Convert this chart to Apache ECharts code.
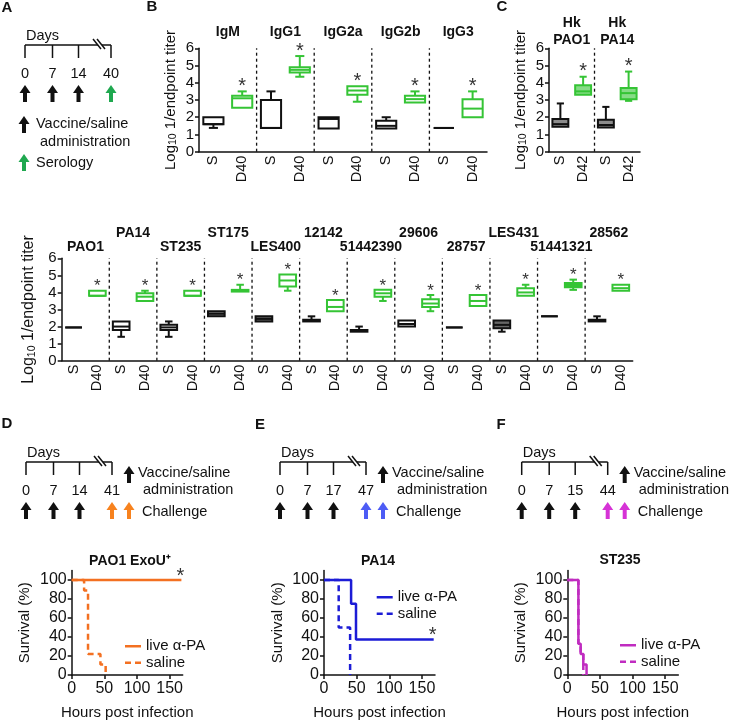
<!DOCTYPE html>
<html>
<head>
<meta charset="utf-8">
<script src="https://cdn.jsdelivr.net/npm/echarts@6/dist/echarts.min.js"></script>
<style>
html, body { margin: 0; padding: 0; background: #fff; }
#main { width: 731px; height: 721px; }
</style>
</head>
<body>
<div id="main"></div>
<script>
// box values are [min, q1, median, q3, max] on log10 titer

// B: isotypes, saline vs day 40
const isotypes = ['IgM', 'IgG1', 'IgG2a', 'IgG2b', 'IgG3'];
const isoSaline = [
  [1.38, 1.6, 1.6, 2.0, 2.0],
  [1.38, 1.38, 1.38, 3.0, 3.5],
  [1.35, 1.35, 1.9, 2.0, 2.0],
  [1.35, 1.35, 1.5, 1.8, 2.0],
  [1.38, 1.38, 1.38, 1.38, 1.38]
];
const isoD40 = [
  [2.55, 2.55, 3.1, 3.25, 3.5],
  [4.35, 4.6, 4.75, 4.9, 5.55],
  [2.9, 3.3, 3.55, 3.8, 3.8],
  [2.85, 2.85, 3.05, 3.25, 3.5],
  [2.0, 2.0, 2.5, 3.05, 3.5]
];

// C: heat killed strains, saline vs day 42
const hkStrains = ['Hk\nPAO1', 'Hk\nPA14'];
const hkSaline = [
  [1.45, 1.45, 1.6, 1.9, 2.8],
  [1.4, 1.4, 1.55, 1.85, 2.6]
];
const hkD42 = [
  [3.3, 3.3, 3.5, 3.85, 4.35],
  [2.95, 3.05, 3.4, 3.7, 4.65]
];

// middle row: clinical strains
const strains = ['PAO1', 'PA14', 'ST235', 'ST175', 'LES400', '12142',
  '51442390', '29606', '28757', 'LES431', '51441321', '28562'];
const strainSaline = [
  [1.95, 1.95, 1.95, 1.95, 1.95],
  [1.4, 1.8, 2.0, 2.3, 2.3],
  [1.4, 1.8, 1.95, 2.1, 2.3],
  [2.6, 2.6, 2.75, 2.9, 2.9],
  [2.3, 2.3, 2.45, 2.6, 2.6],
  [2.3, 2.3, 2.35, 2.4, 2.6],
  [1.7, 1.7, 1.75, 1.8, 2.0],
  [2.0, 2.0, 2.15, 2.35, 2.35],
  [1.95, 1.95, 1.95, 1.95, 1.95],
  [1.7, 1.9, 2.1, 2.35, 2.35],
  [2.6, 2.6, 2.6, 2.6, 2.6],
  [2.3, 2.3, 2.35, 2.4, 2.6]
];
const strainD40 = [
  [3.8, 3.8, 3.8, 4.1, 4.1],
  [3.5, 3.5, 3.75, 3.95, 4.1],
  [3.8, 3.8, 3.8, 4.1, 4.1],
  [4.05, 4.05, 4.1, 4.15, 4.45],
  [4.1, 4.35, 4.7, 5.05, 5.05],
  [2.9, 2.9, 3.15, 3.55, 3.55],
  [3.5, 3.75, 3.95, 4.15, 4.15],
  [2.9, 3.15, 3.35, 3.6, 3.85],
  [3.2, 3.2, 3.5, 3.85, 3.85],
  [3.8, 3.8, 4.0, 4.25, 4.45],
  [4.15, 4.3, 4.4, 4.55, 4.75],
  [4.1, 4.1, 4.25, 4.45, 4.45]
];

// survival curves [hours, % survival]
const survD_live = [[0, 100], [168, 100]];
const survD_saline = [[0, 100], [19, 89], [25, 22], [44, 11], [52, 0]];
const survE_live = [[0, 100], [41.5, 75], [49, 37.5], [168, 37.5]];
const survE_saline = [[0, 100], [22.5, 50], [40, 0]];
const survF_live = [[0, 100], [17, 33], [20.5, 22], [24.5, 11], [29.5, 0]];
const survF_saline = [[0, 100], [17, 33], [20.5, 22], [24.5, 0]];
const hourTicks = [0, 50, 100, 150];
const survTicks = [0, 20, 40, 60, 80, 100];

// schedules (days)
const daysA = ['0', '7', '14', '40'];
const daysD = ['0', '7', '14', '41'];
const daysE = ['0', '7', '17', '47'];
const daysF = ['0', '7', '15', '44'];

const BLACK = '#111';
const GREEN = '#35c435';
const ORANGE = '#f37021';
const BLUE = '#1c1cd6';
const MAGENTA = '#c02cc0';
const FONT = '"Liberation Sans", Arial, sans-serif';
const SOLID_ICON = 'path://M0,0H16V2.5H0Z';
const DASH_ICON = 'path://M0,0H6V2.5H0ZM10,0H16V2.5H10Z';

var myChart = echarts.init(document.getElementById('main'));

function boxData(saline, vacc) {
  const rows = [];
  saline.forEach(function (s, g) {
    rows.push([2 * g].concat(s, [0, g]));
    rows.push([2 * g + 1].concat(vacc[g], [1, g]));
  });
  return rows;
}

function catKeys(n, second) {
  const k = [];
  for (let g = 0; g < n; g++) { k.push(g + ':S'); k.push(g + ':' + second); }
  return k;
}

function boxRenderer(cfg) {
  return function (params, api) {
    const i = api.value(0);
    const kind = api.value(6);
    const g = api.value(7);
    const ys = [1, 2, 3, 4, 5].map(function (k) { return api.coord([i, api.value(k)])[1]; });
    const cx = api.coord([i, 0])[0];
    const band = api.size([1, 0])[0];
    const w = band * 0.7;
    const cap = w * 0.45;
    const color = kind ? GREEN : BLACK;
    const fill = cfg.fill(g, kind) || '#fff';
    const seg = function (x1, y1, x2, y2, extra) {
      return { type: 'line', shape: { x1: x1, y1: y1, x2: x2, y2: y2 },
        style: Object.assign({ stroke: color, lineWidth: 2 }, extra || {}) };
    };
    const kids = [];
    if (ys[0] - ys[1] > 0.5) {
      kids.push(seg(cx, ys[1], cx, ys[0]));
      kids.push(seg(cx - cap / 2, ys[0], cx + cap / 2, ys[0]));
    }
    if (ys[3] - ys[4] > 0.5) {
      kids.push(seg(cx, ys[3], cx, ys[4]));
      kids.push(seg(cx - cap / 2, ys[4], cx + cap / 2, ys[4]));
    }
    kids.push({ type: 'rect', shape: { x: cx - w / 2, y: ys[3], width: w, height: ys[1] - ys[3] },
      style: { fill: fill, stroke: color, lineWidth: 2 } });
    kids.push(seg(cx - w / 2, ys[2], cx + w / 2, ys[2]));
    if (kind) {
      kids.push({ type: 'text', style: { text: '*', x: cx, y: ys[4] - cfg.starGap,
        align: 'center', verticalAlign: 'middle', font: cfg.starFont, fill: '#333' } });
      if (g < cfg.titles.length - 1) {
        const xb = cx + band / 2;
        kids.push(seg(xb, api.coord([i, 0])[1], xb, api.coord([i, 6])[1],
          { stroke: BLACK, lineWidth: 1.3, lineDash: [3, 3] }));
      }
    } else {
      kids.push({ type: 'text', style: { text: cfg.titles[g], x: cx + band / 2,
        y: api.coord([i, 6])[1] - cfg.titleGap(g), align: 'center', verticalAlign: 'middle',
        font: 'bold 14px ' + FONT, fill: BLACK, lineHeight: 17 } });
    }
    return { type: 'group', children: kids };
  };
}

function titerY(gridIndex, nameSize) {
  return {
    type: 'value', gridIndex: gridIndex, min: 0, max: 6, interval: 1,
    name: 'Log{s|10} 1/endpoint titer', nameLocation: 'middle', nameGap: 20, nameRotate: 90,
    nameTextStyle: { fontSize: nameSize, color: BLACK, lineHeight: 17,
      rich: { s: { fontSize: 10.5, lineHeight: 8, verticalAlign: 'bottom', color: BLACK } } },
    axisLine: { show: true, lineStyle: { color: BLACK, width: 1.5 } },
    axisTick: { show: true, length: 4, lineStyle: { color: BLACK, width: 1.5 } },
    axisLabel: { fontSize: 15, color: BLACK, margin: 5 },
    splitLine: { show: false }
  };
}

function groupX(gridIndex, keys) {
  return {
    type: 'category', gridIndex: gridIndex, data: keys,
    axisLine: { show: true, lineStyle: { color: BLACK, width: 1.5 } },
    axisTick: { show: false },
    axisLabel: { rotate: 90, fontSize: 14.5, color: BLACK, margin: 4, interval: 0,
      formatter: function (v) { return v.split(':')[1]; } },
    splitLine: { show: false }
  };
}

function survX(gridIndex) {
  return {
    type: 'value', gridIndex: gridIndex, min: 0, max: 170, interval: 50,
    name: 'Hours post infection', nameLocation: 'middle', nameGap: 30,
    nameTextStyle: { fontSize: 15, color: BLACK },
    axisLine: { show: true, lineStyle: { color: BLACK, width: 1.5 } },
    axisTick: { show: true, length: 4, lineStyle: { color: BLACK, width: 1.5 },
      customValues: hourTicks },
    axisLabel: { fontSize: 16, color: BLACK, margin: 6, customValues: hourTicks },
    splitLine: { show: false }
  };
}

function survY(gridIndex) {
  return {
    type: 'value', gridIndex: gridIndex, min: 0, max: 110, interval: 20,
    name: 'Survival (%)', nameLocation: 'middle', nameGap: 39, nameRotate: 90,
    nameTextStyle: { fontSize: 15, color: BLACK },
    axisLine: { show: true, lineStyle: { color: BLACK, width: 1.5 } },
    axisTick: { show: true, length: 4, lineStyle: { color: BLACK, width: 1.5 },
      customValues: survTicks },
    axisLabel: { fontSize: 16, color: BLACK, margin: 5, customValues: survTicks },
    splitLine: { show: false }
  };
}

function survLine(name, idx, data, color, dashed, star) {
  return {
    type: 'line', name: name, xAxisIndex: idx, yAxisIndex: idx, data: data, step: 'end',
    symbol: 'none', z: dashed ? 2 : 3,
    lineStyle: { color: color, width: 2.5, type: dashed ? [6, 4] : 'solid' },
    itemStyle: { color: color },
    endLabel: star ? { show: true, formatter: '*', fontSize: 20, color: '#333', offset: [-13, -3.5] } : { show: false }
  };
}

function survLegend(prefix, left, top) {
  return {
    data: [{ name: prefix + ':live α-PA', icon: SOLID_ICON }, { name: prefix + ':saline', icon: DASH_ICON }],
    left: left, top: top, orient: 'vertical',
    itemWidth: 16, itemHeight: 12, itemGap: 0, padding: 0,
    formatter: function (n) { return n.split(':')[1]; },
    textStyle: { fontSize: 15, color: BLACK, lineHeight: 16.5 }
  };
}

// schematic helpers
function txt(s, x, y, align, extra) {
  return { type: 'text', style: Object.assign({ text: s, x: x, y: y, align: align || 'left',
    verticalAlign: 'middle', font: '14.5px ' + FONT, fill: BLACK }, extra || {}) };
}
function ln(x1, y1, x2, y2) {
  return { type: 'line', shape: { x1: x1, y1: y1, x2: x2, y2: y2 }, style: { stroke: BLACK, lineWidth: 1.5 } };
}
function arrow(cx, top, color) {
  const h = 17, hw = 5.5, hh = 8, sw = 2;
  return { type: 'polygon', shape: { points: [[cx, top], [cx + hw, top + hh], [cx + sw, top + hh],
    [cx + sw, top + h], [cx - sw, top + h], [cx - sw, top + hh], [cx - hw, top + hh]] },
    style: { fill: color } };
}
const tickOffsets = [0, 27.5, 53.5, 86];
function timeline(x0, y0, days) {
  const els = [txt('Days', x0 + 1, y0 - 9)];
  els.push(ln(x0, y0, x0 + 73, y0));
  els.push(ln(x0 + 77, y0, x0 + tickOffsets[3], y0));
  els.push(ln(x0 + 68, y0 - 6, x0 + 76, y0 + 4));
  els.push(ln(x0 + 72, y0 - 6, x0 + 80, y0 + 4));
  days.forEach(function (d, i) {
    const x = x0 + tickOffsets[i];
    els.push(ln(x, y0, x, y0 + 13));
    els.push(txt(d, x, y0 + 28.5, 'center'));
  });
  return els;
}
function challenge(x0, y0, days, color) {
  const els = timeline(x0, y0, days);
  for (let i = 0; i < 3; i++) els.push(arrow(x0 + tickOffsets[i], y0 + 40, BLACK));
  els.push(arrow(x0 + 86, y0 + 40, color));
  els.push(arrow(x0 + 103, y0 + 40, color));
  els.push(arrow(x0 + 103, y0 + 4, BLACK));
  els.push(txt('Vaccine/saline', x0 + 112, y0 + 11));
  els.push(txt('administration', x0 + 117, y0 + 28));
  els.push(txt('Challenge', x0 + 116, y0 + 50));
  return els;
}
function letter(s, x, y) {
  return txt(s, x, y, 'center', { font: 'bold 15px ' + FONT });
}

const graphics = [].concat(
  [letter('A', 7, 8), letter('B', 152, 7), letter('C', 502, 7),
   letter('D', 7, 424), letter('E', 260, 425), letter('F', 501, 425)],
  timeline(25, 45, daysA),
  [arrow(25, 85, BLACK), arrow(52.5, 85, BLACK), arrow(78.5, 85, BLACK), arrow(111, 85, '#1fa84f'),
   arrow(24, 116, BLACK), txt('Vaccine/saline', 36, 123.5), txt('administration', 40, 141.5),
   arrow(24, 154, '#1fa84f'), txt('Serology', 36, 162.5)],
  challenge(26, 462, daysD, '#f7821e'),
  challenge(280, 462, daysE, '#4d5cf5'),
  challenge(521.7, 462, daysF, '#d633d6'),
  [txt('PAO1 ExoU⁺', 130, 561, 'center', { font: 'bold 14px ' + FONT }),
   txt('PA14', 378, 561, 'center', { font: 'bold 14px ' + FONT }),
   txt('ST235', 620, 560, 'center', { font: 'bold 14px ' + FONT })]
);

const midFill = { '3:0': '#888', '4:0': '#666', '9:0': '#666', '10:1': GREEN };

const option = {
  animation: false,
  backgroundColor: '#fff',
  textStyle: { fontFamily: FONT },
  grid: [
    { left: 199, top: 48.3, width: 288, height: 103.4 },
    { left: 549, top: 48.3, width: 91, height: 103.4 },
    { left: 61.7, top: 258.3, width: 571, height: 102.4 },
    { left: 71.7, top: 570.5, width: 111, height: 104.5 },
    { left: 324, top: 570.5, width: 111, height: 104.5 },
    { left: 567.3, top: 570.5, width: 111, height: 104.5 }
  ],
  xAxis: [
    groupX(0, catKeys(isotypes.length, 'D40')),
    groupX(1, catKeys(hkStrains.length, 'D42')),
    groupX(2, catKeys(strains.length, 'D40')),
    survX(3), survX(4), survX(5)
  ],
  yAxis: [titerY(0, 15), titerY(1, 15), titerY(2, 16), survY(3), survY(4), survY(5)],
  legend: [survLegend('D', 125, 638), survLegend('E', 376.7, 589), survLegend('F', 620, 637)],
  graphic: graphics,
  series: [
    {
      type: 'custom', xAxisIndex: 0, yAxisIndex: 0, data: boxData(isoSaline, isoD40),
      encode: { x: 0, y: [1, 2, 3, 4, 5] },
      renderItem: boxRenderer({ titles: isotypes, titleGap: function () { return 16.5; },
        starGap: 5, starFont: '20px ' + FONT, fill: function () { return null; } })
    },
    {
      type: 'custom', xAxisIndex: 1, yAxisIndex: 1, data: boxData(hkSaline, hkD42),
      encode: { x: 0, y: [1, 2, 3, 4, 5] },
      renderItem: boxRenderer({ titles: hkStrains, titleGap: function () { return 16.5; },
        starGap: 5, starFont: '20px ' + FONT,
        fill: function (g, kind) { return kind ? '#86dc86' : '#8c8c8c'; } })
    },
    {
      type: 'custom', xAxisIndex: 2, yAxisIndex: 2, data: boxData(strainSaline, strainD40),
      encode: { x: 0, y: [1, 2, 3, 4, 5] },
      renderItem: boxRenderer({ titles: strains,
        titleGap: function (g) { return g % 2 ? 25.5 : 11; },
        starGap: 4, starFont: '17px ' + FONT,
        fill: function (g, kind) { return midFill[g + ':' + kind]; } })
    },
    survLine('D:saline', 3, survD_saline, ORANGE, true, false),
    survLine('D:live α-PA', 3, survD_live, ORANGE, false, true),
    survLine('E:saline', 4, survE_saline, BLUE, true, false),
    survLine('E:live α-PA', 4, survE_live, BLUE, false, true),
    survLine('F:saline', 5, survF_saline, MAGENTA, true, false),
    survLine('F:live α-PA', 5, survF_live, MAGENTA, false, false)
  ]
};

myChart.setOption(option);
</script>
</body>
</html>
